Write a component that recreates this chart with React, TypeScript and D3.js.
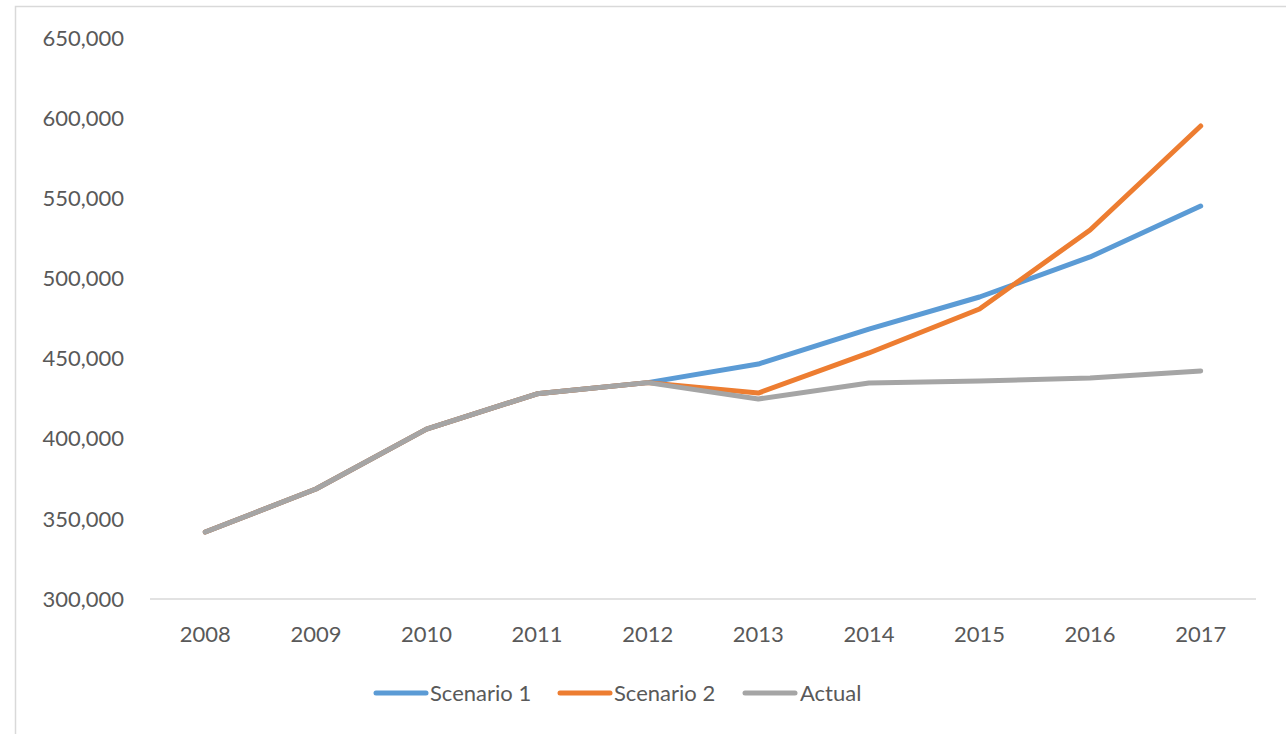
import React from "react";
import * as d3 from "d3";

const years = ["2008", "2009", "2010", "2011", "2012", "2013", "2014", "2015", "2016", "2017"];
const scenario1 = [341800, 368600, 406000, 428000, 435000, 446600, 468400, 488400, 513400, 545200];
const scenario2 = [341800, 368600, 406000, 428000, 435000, 428500, 453500, 480900, 530200, 595100];
const actual = [341800, 368600, 406000, 428000, 435000, 424800, 434800, 436000, 437900, 442300];
const yTicks = [300000, 350000, 400000, 450000, 500000, 550000, 600000, 650000];

const seriesNames = ["Scenario 1", "Scenario 2", "Actual"];
const seriesColors = ["#5B9BD5", "#ED7D31", "#A5A5A5"];
const seriesValues = [scenario1, scenario2, actual];

const W = 1286;
const H = 734;
const FONT = "Lato, 'Open Sans', sans-serif";
const FS = 22;

export default function App() {
  const x = d3.scaleBand<string>().domain(years).range([150, 1256]);
  const y = d3.scaleLinear().domain([300000, 650000]).range([599, 38]);
  const fmt = d3.format(",");
  const line = d3
    .line<number>()
    .x((_, i) => (x(years[i]) as number) + x.bandwidth() / 2)
    .y((d) => y(d));

  const legendItems = [
    { lx: 376, tx: 430 },
    { lx: 560, tx: 614 },
    { lx: 745, tx: 800 },
  ];

  return (
    <svg
      width={W}
      height={H}
      style={{ position: "absolute", left: 0, top: 0, background: "#fff" }}
    >
      <rect x={15.5} y={6.5} width={1300} height={760} fill="#fff" stroke="#d9d9d9" strokeWidth={1.5} />
      {yTicks.map((t) => (
        <text
          key={t}
          x={124}
          y={y(t)}
          dy="0.35em"
          textAnchor="end"
          fontFamily={FONT}
          fontSize={FS}
          fill="#595959"
        >
          {fmt(t)}
        </text>
      ))}
      <line x1={150} x2={1256} y1={y(300000)} y2={y(300000)} stroke="#d9d9d9" strokeWidth={1.5} />
      {years.map((yr) => (
        <text
          key={yr}
          x={(x(yr) as number) + x.bandwidth() / 2}
          y={634}
          dy="0.35em"
          textAnchor="middle"
          fontFamily={FONT}
          fontSize={FS}
          fill="#595959"
        >
          {yr}
        </text>
      ))}
      {seriesValues.map((vals, i) => (
        <path
          key={seriesNames[i]}
          d={line(vals) || ""}
          fill="none"
          stroke={seriesColors[i]}
          strokeWidth={5}
          strokeLinejoin="round"
          strokeLinecap="round"
        />
      ))}
      {seriesNames.map((name, i) => (
        <g key={name}>
          <line
            x1={legendItems[i].lx}
            x2={legendItems[i].lx + 50}
            y1={693}
            y2={693}
            stroke={seriesColors[i]}
            strokeWidth={5}
            strokeLinecap="round"
          />
          <text
            x={legendItems[i].tx}
            y={693}
            dy="0.35em"
            fontFamily={FONT}
            fontSize={FS}
            fill="#595959"
          >
            {name}
          </text>
        </g>
      ))}
    </svg>
  );
}
